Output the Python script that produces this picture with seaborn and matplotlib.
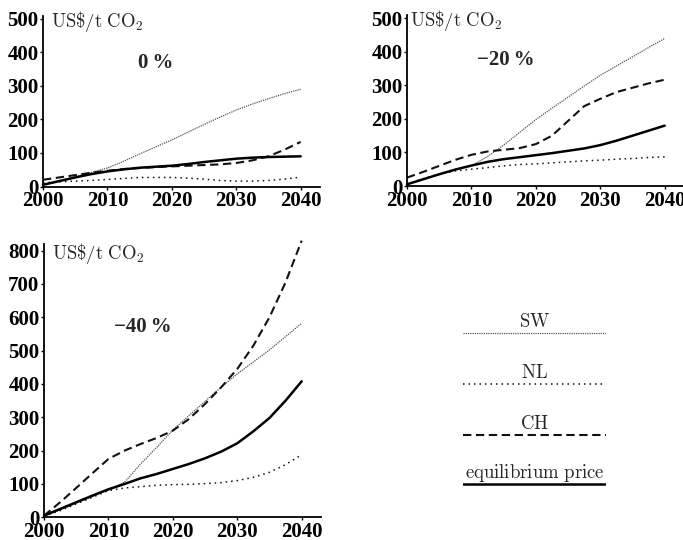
import matplotlib
matplotlib.use("Agg")
import matplotlib.pyplot as plt
import seaborn as sns
import pandas as pd

# Years at which the price paths are given
years = [2000, 2002.5, 2005, 2007.5, 2010, 2012.5, 2015, 2017.5, 2020,
         2022.5, 2025, 2027.5, 2030, 2032.5, 2035, 2037.5, 2040]

# CO2 prices (US$/t CO2), scenario 0 %
sw_0 = [5, 17, 29, 42, 55, 75, 97, 118, 139, 162, 185, 207, 228, 246, 262, 277, 290]
nl_0 = [11, 14, 16, 18, 21, 24, 27, 27, 27, 25, 22, 18, 16, 16, 18, 22, 28]
ch_0 = [20, 27, 34, 41, 47, 52, 55, 58, 60, 62, 64, 66, 70, 78, 90, 110, 133]
eq_0 = [5, 16, 27, 37, 45, 51, 56, 59, 62, 67, 73, 78, 83, 86, 88, 89, 90]

# scenario -20 %
sw_20 = [5, 20, 35, 48, 60, 88, 122, 160, 198, 232, 265, 298, 330, 358, 385, 413, 440]
nl_20 = [5, 22, 35, 45, 50, 55, 60, 64, 66, 69, 72, 75, 77, 80, 82, 85, 87]
ch_20 = [25, 42, 60, 78, 93, 103, 108, 113, 125, 150, 194, 238, 260, 280, 293, 306, 317]
eq_20 = [5, 20, 35, 49, 61, 72, 80, 86, 92, 98, 105, 112, 122, 135, 150, 165, 180]

# scenario -40 %
sw_40 = [3, 22, 42, 62, 82, 105, 160, 210, 262, 305, 348, 390, 430, 466, 502, 542, 582]
nl_40 = [3, 20, 40, 60, 80, 88, 92, 96, 98, 99, 101, 104, 110, 120, 135, 158, 188]
ch_40 = [5, 45, 88, 132, 175, 200, 220, 238, 260, 295, 340, 390, 445, 515, 600, 705, 830]
eq_40 = [5, 25, 45, 65, 84, 100, 117, 130, 145, 160, 177, 197, 222, 258, 298, 350, 408]

series_names = ["SW", "NL", "CH", "equilibrium price"]
panel_titles = ["0\u2009%", "\u221220\u2009%", "\u221240\u2009%"]
x_ticks = [2000, 2010, 2020, 2030, 2040]
y_ticks_small = [0, 100, 200, 300, 400, 500]
y_ticks_large = [0, 100, 200, 300, 400, 500, 600, 700, 800]

sns.set_style("ticks")
plt.rcParams["mathtext.fontset"] = "cm"
plt.rcParams["font.family"] = ["Liberation Serif", "DejaVu Serif"]

styles = {
    "SW": dict(color="#555555", linewidth=0.9, linestyle=(0, (1, 0.8))),
    "NL": dict(color="#111111", linewidth=1.1, linestyle=(0, (1, 2.6))),
    "CH": dict(color="#111111", linewidth=1.5, linestyle=(0, (4, 2.2))),
    "equilibrium price": dict(color="#000000", linewidth=1.8, linestyle="-"),
}

W, H = 683, 540
fig = plt.figure(figsize=(W / 100, H / 100), dpi=100)


def make_axes(left_px, bottom_px, width_px, height_px):
    return fig.add_axes([left_px / W, 1 - bottom_px / H, width_px / W, height_px / H])


def draw_panel(ax, sw, nl, ch, eq, ylim_top, yticks, spine_top, title, title_xy,
               unit_xy):
    df = pd.DataFrame({"year": years * 4,
                       "price": sw + nl + ch + eq,
                       "series": sum([[n] * len(years) for n in series_names], [])})
    for name in series_names:
        sub = df[df["series"] == name]
        sns.lineplot(data=sub, x="year", y="price", ax=ax, legend=False,
                     clip_on=False, **styles[name])
    ax.set_xlim(2000, 2043)
    ax.set_ylim(0, ylim_top)
    ax.set_xticks(x_ticks)
    ax.set_yticks(yticks)
    ax.tick_params(axis="both", labelsize=15, length=2.5, width=1, pad=0.8,
                   direction="out", colors="black")
    for lab in ax.get_xticklabels() + ax.get_yticklabels():
        lab.set_fontweight("bold")
    ax.set_xlabel("")
    ax.set_ylabel("")
    for s in ["top", "right"]:
        ax.spines[s].set_visible(False)
    for s in ["left", "bottom"]:
        ax.spines[s].set_linewidth(1.3)
        ax.spines[s].set_color("black")
    ax.spines["left"].set_bounds(0, spine_top)
    ax.text(unit_xy[0], unit_xy[1], r"$\mathrm{US\$/t\ CO_2}$", fontsize=13.5,
            ha="left", va="baseline")
    ax.text(title_xy[0], title_xy[1], title, fontsize=15, fontweight="bold",
            ha="center", va="center")
    ax.set_facecolor("none")


ax1 = make_axes(43, 186.5, 277, 171)
draw_panel(ax1, sw_0, nl_0, ch_0, eq_0, 510, y_ticks_small, 510, panel_titles[0],
           (2017.5, 369), (2001.3, 476))

ax2 = make_axes(407, 186, 277, 171)
draw_panel(ax2, sw_20, nl_20, ch_20, eq_20, 510, y_ticks_small, 510, panel_titles[1],
           (2015.4, 375), (2000.5, 476))

ax3 = make_axes(44, 517.3, 277, 280)
draw_panel(ax3, sw_40, nl_40, ch_40, eq_40, 840, y_ticks_large, 820, panel_titles[2],
           (2015.3, 572), (2001.2, 775))

# Key with the label centred above each line sample
axk = make_axes(463, 500, 143, 200)
axk.set_xlim(0, 1)
axk.set_ylim(0, 1)
axk.axis("off")
key_y = [0.835, 0.58, 0.325, 0.08]
for name, yk in zip(series_names, key_y):
    axk.plot([0, 1], [yk, yk], **styles[name])
    axk.text(0.5, yk + 0.03, r"$\mathrm{%s}$" % name.replace(" ", r"\ "),
             fontsize=13.5, ha="center", va="baseline")

fig.savefig("out.png", dpi=100, facecolor="white")
